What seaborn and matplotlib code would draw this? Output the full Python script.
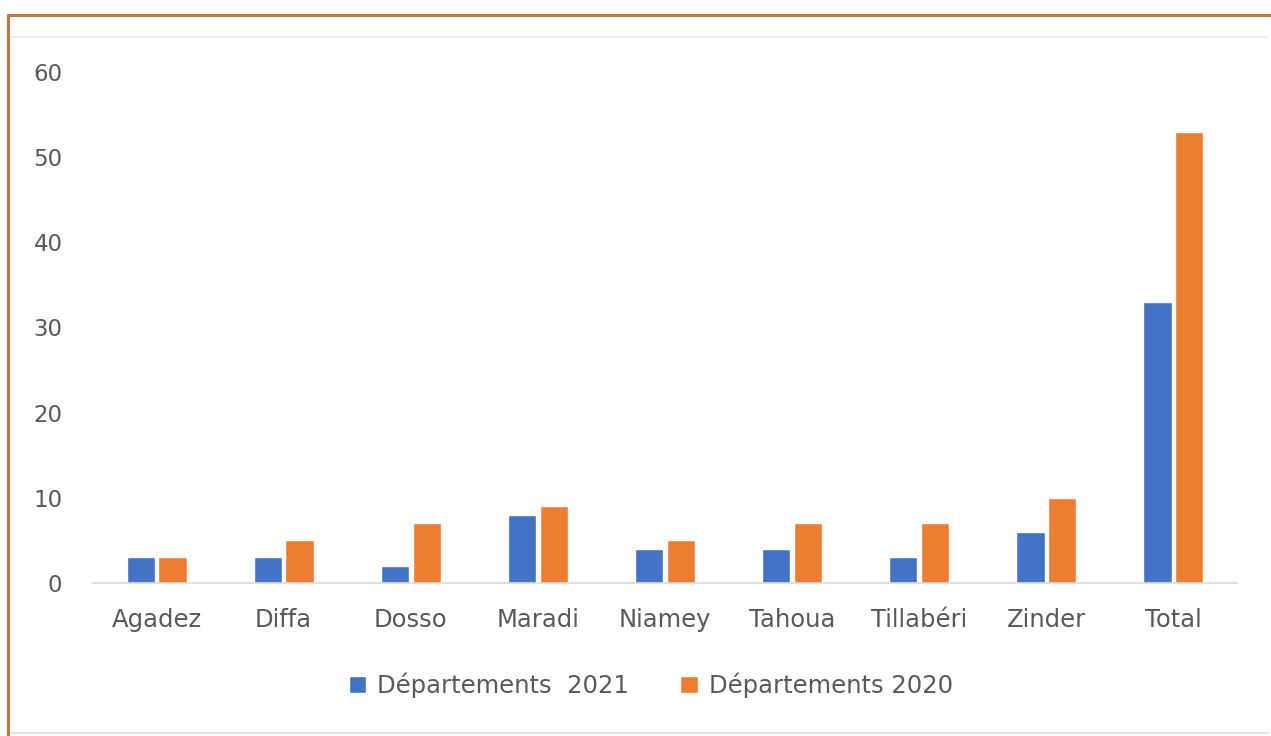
import pandas as pd
import matplotlib
matplotlib.use('Agg')
import matplotlib.pyplot as plt
from matplotlib.lines import Line2D
import seaborn as sns

# Data
regions = ['Agadez', 'Diffa', 'Dosso', 'Maradi', 'Niamey', 'Tahoua', 'Tillabéri', 'Zinder', 'Total']
dep_2021 = [3, 3, 2, 8, 4, 4, 3, 6, 33]
dep_2020 = [3, 5, 7, 9, 5, 7, 7, 10, 53]
series_names = ['Départements  2021', 'Départements 2020']
yticks = [0, 10, 20, 30, 40, 50, 60]

df = pd.DataFrame({
    'region': regions * 2,
    'series': [series_names[0]] * len(regions) + [series_names[1]] * len(regions),
    'value': dep_2021 + dep_2020,
})

sns.set_theme(style='white')
plt.rcParams['font.family'] = ['DejaVu Sans']

fig = plt.figure(figsize=(12.71, 7.36), dpi=100)
ax = fig.add_axes([0.0732, 0.2079, 0.9, 0.6943])

sns.barplot(data=df, x='region', y='value', hue='series',
            palette=['#4472C4', '#ED7D31'], width=0.5, gap=0.11,
            saturation=1, ax=ax)

fs = 17.5
ax.set_ylim(0, 60)
ax.set_xlim(-0.5, len(regions) - 0.5)
ax.set_yticks(yticks)
ax.set_xlabel('')
ax.set_ylabel('')
ax.tick_params(axis='y', length=0, pad=22, labelsize=16.5, labelcolor='#595959')
ax.tick_params(axis='x', length=0, pad=18, labelsize=fs, labelcolor='#595959')
for s in ['top', 'right', 'left']:
    ax.spines[s].set_visible(False)
ax.spines['bottom'].set_color('#D9D9D9')
ax.spines['bottom'].set_linewidth(1.2)
ax.set_facecolor('none')

# Legend at the bottom centre
handles, labels = ax.get_legend_handles_labels()
ax.get_legend().remove()
fig.legend(handles, labels, loc='center', bbox_to_anchor=(0.512, 1 - 685 / 736),
           ncol=2, frameon=False, fontsize=fs, labelcolor='#595959',
           handlelength=0.72, handleheight=0.72, handletextpad=0.45,
           columnspacing=2.1)

# Frame around the figure
fig.add_artist(Line2D([10 / 1271, 1268 / 1271], [1 - 37 / 736, 1 - 37 / 736],
                      color='#EEEEEE', lw=1.5, transform=fig.transFigure))
fig.add_artist(Line2D([10 / 1271, 1268 / 1271], [1 - 733 / 736, 1 - 733 / 736],
                      color='#E4E4E4', lw=1.5, transform=fig.transFigure))
fig.add_artist(Line2D([8 / 1271, 8 / 1271, 1.0], [0.0, 1 - 15 / 736, 1 - 15 / 736],
                      color='#C0773E', lw=2.2, transform=fig.transFigure))

fig.savefig('out.png', dpi=100)
